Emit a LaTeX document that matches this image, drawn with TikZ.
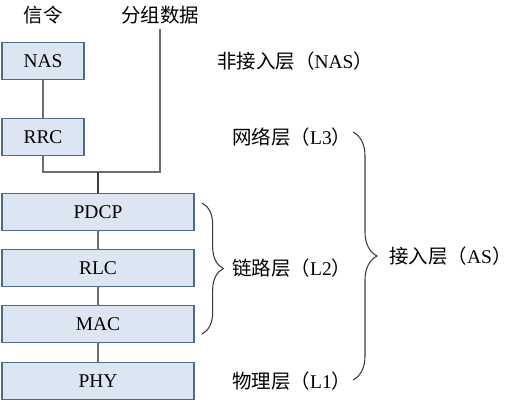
\documentclass[tikz,border=0pt]{standalone}
\usepackage{fontspec}
\setmainfont{Liberation Serif}
\newfontfamily\cjk{Noto Sans CJK SC}
\usepackage{xcolor}
\usetikzlibrary{decorations.pathreplacing}
\definecolor{boxfill}{RGB}{220,230,242}
\definecolor{boxline}{RGB}{79,106,143}
\definecolor{linkgray}{RGB}{110,110,110}
\definecolor{bracegray}{RGB}{60,60,60}

\begin{document}
\begin{tikzpicture}[x=0.75pt,y=-0.75pt,
    font=\fontsize{14.6}{16}\selectfont,
    layerbox/.style={draw=boxline,fill=boxfill,line width=0.9pt,inner sep=0pt,minimum height=28pt},
    narrowbox/.style={layerbox,minimum width=61.5pt},
    widebox/.style={layerbox,minimum width=144pt},
    link/.style={draw=linkgray,line width=1pt},
    bracelabel/.style={anchor=west,inner sep=0pt},
    bracepath/.style={draw=bracegray,line width=0.8pt,decorate}]
            \useasboundingbox (0,0) rectangle (524,403);

            % Top labels
            \node (sig) at (43,15) {\cjk 信令};
            \node (data) at (160,15) {\cjk 分组数据};

            % Upper layers
            \node[narrowbox] (NAS) at (43,61) {NAS};
            \node[narrowbox] (RRC) at (43,137) {RRC};

            % Protocol stack
            \foreach \name/\y in {PDCP/212, RLC/268, MAC/324, PHY/381} {
                \node[widebox] (\name) at (98,\y) {\name};
            }

            % Links
            \coordinate (join) at (98,172);
            \draw[link] (NAS) -- (RRC);
            \draw[link] (RRC.south) |- (join) -| (data.south);
            \draw[draw=bracegray,line width=1pt] (join) -- (PDCP.north);
            \draw[link] (PDCP) -- (RLC);
            \draw[link] (RLC) -- (MAC);
            \draw[link] (MAC) -- (PHY);

            % Layer names
            \node[bracelabel] (nas) at (217,61) {{\cjk 非接入层（}NAS{\cjk ）}};
            \node[bracelabel] (l3) at (232,137) {{\cjk 网络层（}L3{\cjk ）}};
            \node[bracelabel] (l2) at (232,268) {{\cjk 链路层（}L2{\cjk ）}};
            \node[bracelabel] (l1) at (232,381) {{\cjk 物理层（}L1{\cjk ）}};
            \node[bracelabel] (as) at (389,256) {{\cjk 接入层（}AS{\cjk ）}};

            % Braces
            \coordinate (l2top) at (202,203);
            \coordinate (l2bot) at (202,334);
            \coordinate (astop) at (353,132);
            \coordinate (asbot) at (353,380);
            \draw[bracepath,decoration={brace,amplitude=16pt}] (l2top) -- (l2bot);
            \draw[bracepath,decoration={brace,amplitude=18pt}] (astop) -- (asbot);
        \end{tikzpicture}
\end{document}
